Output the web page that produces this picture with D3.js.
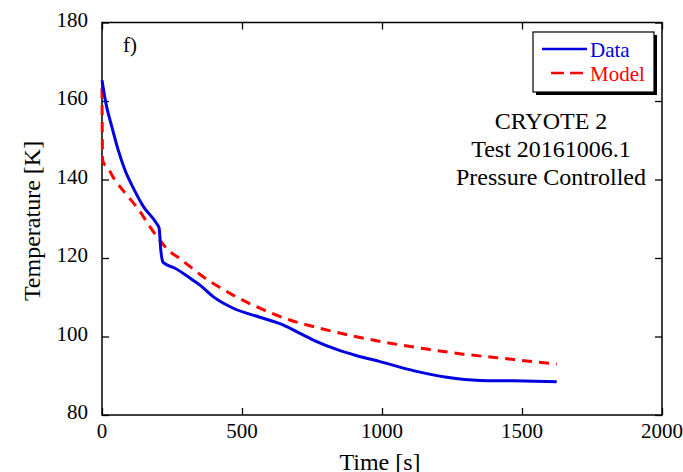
<!DOCTYPE html>
<html>
<head>
<meta charset="utf-8">
<script src="https://cdn.jsdelivr.net/npm/d3@7"></script>
<style>
  body { margin: 0; background: #fff; }
  svg text { font-family: "Liberation Serif", "Times New Roman", serif; }
</style>
</head>
<body>
<svg id="chart" width="683" height="472"></svg>
<script>
const data_time = [0, 14, 35, 58, 82, 112, 148, 195, 204, 210, 219, 261, 320, 350, 398, 469, 564, 648, 707, 767, 838, 910, 993, 1112, 1231, 1350, 1469, 1624]
const data_temp = [165.3, 159.4, 153.5, 147.5, 142.4, 137.8, 133.1, 128.8, 127.6, 122, 118.8, 117.4, 114.6, 113.1, 110.1, 107.2, 104.9, 102.9, 100.8, 98.7, 96.7, 95.1, 93.6, 91.3, 89.6, 88.8, 88.7, 88.5]

// model prediction
const model_time = [0, 2, 5, 17, 46, 94, 136, 165, 195, 237, 285, 350, 457, 564, 671, 779, 898, 1029, 1160, 1290, 1410, 1540, 1624]
const model_temp = [163.3, 145.5, 144.3, 143.3, 139.9, 135.6, 131.8, 128.6, 125.6, 122, 119.5, 115.8, 111, 107.2, 104.2, 102.1, 100.1, 98.3, 96.8, 95.5, 94.6, 93.6, 93.0]

const x_ticks = [0, 500, 1000, 1500, 2000]
const y_ticks = [80, 100, 120, 140, 160, 180]
const info_lines = ['CRYOTE 2', 'Test 20161006.1', 'Pressure Controlled']

const svg = d3.select('#chart')
const plot = { left: 102, right: 662, top: 22.5, bottom: 415 }

let x = d3.scaleLinear().domain([0, 2000]).range([plot.left, plot.right])
let y = d3.scaleLinear().domain([80, 180]).range([plot.bottom, plot.top])

// Axes box with inward ticks on all four sides
let tick_len = 7
svg.append('g')
  .attr('transform', `translate(0,${plot.bottom})`)
  .call(d3.axisBottom(x).tickValues(x_ticks).tickSizeInner(-tick_len).tickSizeOuter(0).tickFormat(''))
svg.append('g')
  .attr('transform', `translate(0,${plot.top})`)
  .call(d3.axisTop(x).tickValues(x_ticks).tickSizeInner(-tick_len).tickSizeOuter(0).tickFormat(''))
svg.append('g')
  .attr('transform', `translate(${plot.left},0)`)
  .call(d3.axisLeft(y).tickValues(y_ticks).tickSizeInner(-tick_len).tickSizeOuter(0).tickFormat(''))
svg.append('g')
  .attr('transform', `translate(${plot.right},0)`)
  .call(d3.axisRight(y).tickValues(y_ticks).tickSizeInner(-tick_len).tickSizeOuter(0).tickFormat(''))

svg.selectAll('.domain').remove()
svg.selectAll('.tick line').attr('stroke', '#000').attr('stroke-width', 1.3)

svg.append('rect')
  .attr('x', plot.left)
  .attr('y', plot.top)
  .attr('width', plot.right - plot.left)
  .attr('height', plot.bottom - plot.top)
  .attr('fill', 'none')
  .attr('stroke', '#000')
  .attr('stroke-width', 1.5)

// Tick labels
svg.append('g').selectAll('text')
  .data(x_ticks)
  .join('text')
  .attr('x', d => x(d))
  .attr('y', 438)
  .attr('text-anchor', 'middle')
  .style('font-size', '21px')
  .text(d => d)

svg.append('g').selectAll('text')
  .data(y_ticks)
  .join('text')
  .attr('x', 88)
  .attr('y', d => y(d) + 4)
  .attr('text-anchor', 'end')
  .style('font-size', '21px')
  .text(d => d)

// Axis titles
svg.append('text')
  .attr('x', 380)
  .attr('y', 470)
  .attr('text-anchor', 'middle')
  .style('font-size', '24px')
  .text('Time [s]')

svg.append('text')
  .attr('transform', 'translate(40,221) rotate(-90)')
  .attr('text-anchor', 'middle')
  .style('font-size', '24px')
  .text('Temperature [K]')

// Lines
let line = d3.line()
  .x(d => x(d[0]))
  .y(d => y(d[1]))
  .curve(d3.curveMonotoneX)

svg.append('path')
  .datum(d3.zip(model_time, model_temp))
  .attr('d', line)
  .attr('fill', 'none')
  .attr('stroke', '#ff0000')
  .attr('stroke-width', 3)
  .attr('stroke-dasharray', '10,7')

svg.append('path')
  .datum(d3.zip(data_time, data_temp))
  .attr('d', line)
  .attr('fill', 'none')
  .attr('stroke', '#0000e0')
  .attr('stroke-width', 3)

// Panel letter
svg.append('text')
  .attr('x', 123)
  .attr('y', 52)
  .style('font-size', '21px')
  .text('f)')

// Legend with drop shadow
let lg = { x: 533, y: 32, w: 121, h: 60 }
svg.append('rect')
  .attr('x', lg.x + 3).attr('y', lg.y + 3)
  .attr('width', lg.w).attr('height', lg.h)
  .attr('fill', '#000')
svg.append('rect')
  .attr('x', lg.x).attr('y', lg.y)
  .attr('width', lg.w).attr('height', lg.h)
  .attr('fill', '#fff')
  .attr('stroke', '#000')
  .attr('stroke-width', 1.2)

svg.append('line')
  .attr('x1', 542).attr('x2', 587).attr('y1', 49).attr('y2', 49)
  .attr('stroke', '#0000e0').attr('stroke-width', 2.5)
svg.append('text')
  .attr('x', 590).attr('y', 57)
  .attr('fill', '#0000e0')
  .style('font-size', '21px')
  .text('Data')

svg.append('line')
  .attr('x1', 551).attr('x2', 587).attr('y1', 73).attr('y2', 73)
  .attr('stroke', '#ff0000').attr('stroke-width', 2.5)
  .attr('stroke-dasharray', '13,6')
svg.append('text')
  .attr('x', 590).attr('y', 81)
  .attr('fill', '#ff0000')
  .style('font-size', '21px')
  .text('Model')

// Test info
svg.append('g').selectAll('text')
  .data(info_lines)
  .join('text')
  .attr('x', 551)
  .attr('y', (d, i) => 129 + i * 28)
  .attr('text-anchor', 'middle')
  .style('font-size', '24px')
  .text(d => d)
</script>
</body>
</html>
